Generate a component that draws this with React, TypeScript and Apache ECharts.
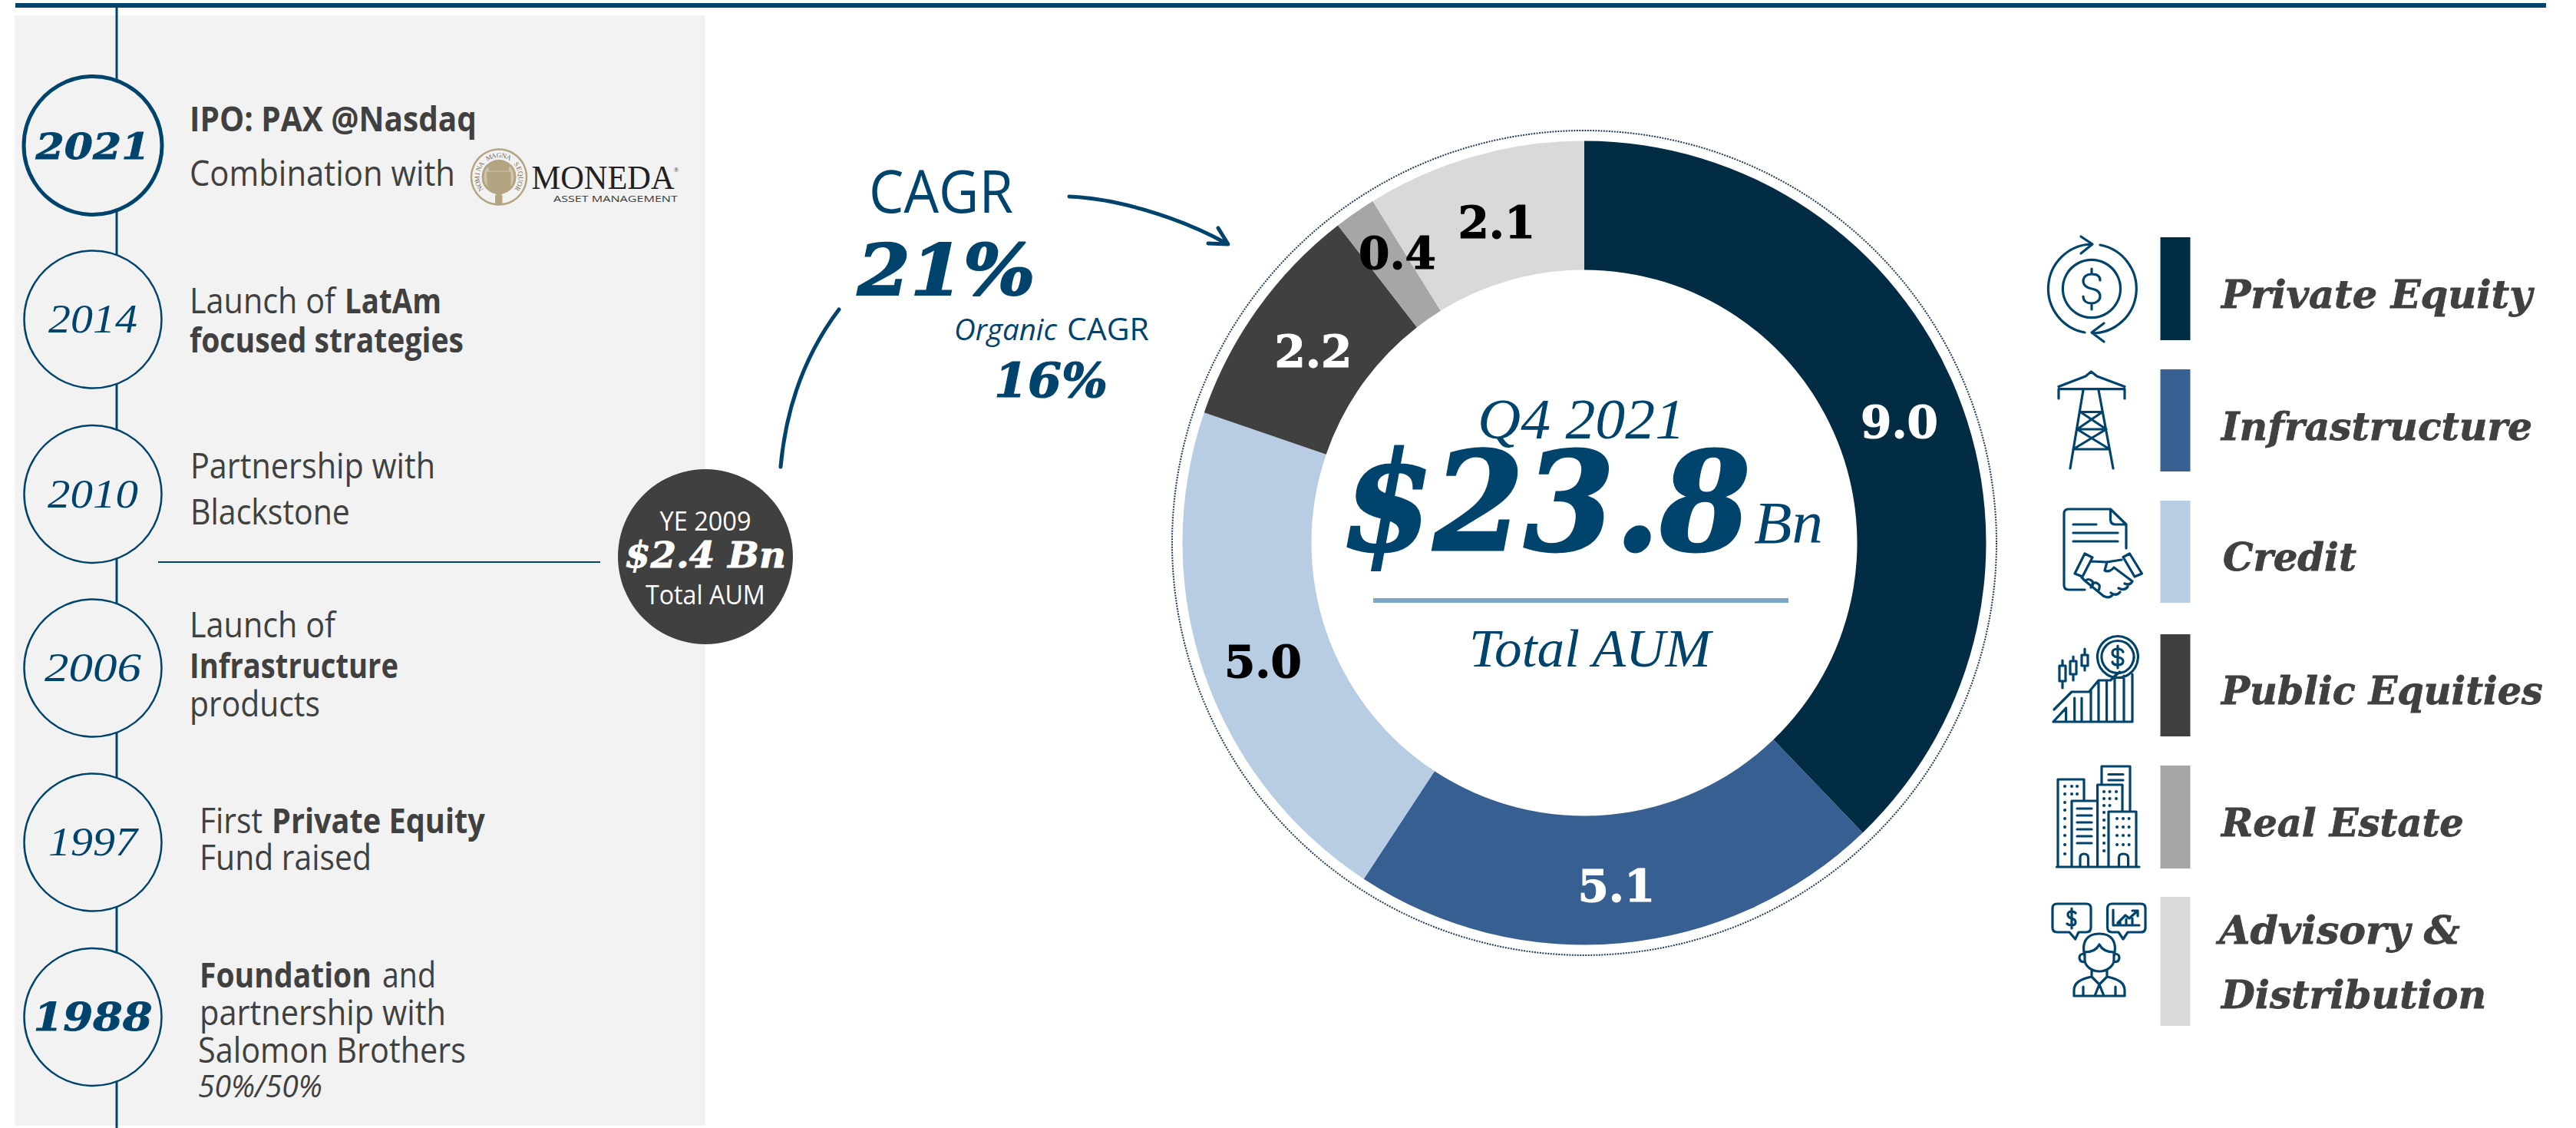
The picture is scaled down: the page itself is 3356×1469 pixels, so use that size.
import React, { useEffect, useRef } from "react";
import * as echarts from "echarts";

const categories = ["Private Equity", "Infrastructure", "Credit", "Public Equities", "Real Estate", "Advisory & Distribution"];
const aumValues = [9.0, 5.1, 5.0, 2.2, 0.4, 2.1];
const sliceColors = ["#022b44", "#385f91", "#b8cce4", "#404040", "#a6a6a6", "#d9d9d9"];
const labelColors = ["#ffffff", "#ffffff", "#000000", "#ffffff", "#000000", "#000000"];
const labelOffsets = [[0, 8], [1, 6], [0, 12], [7, 8], [9, -14], [7, 9]];

const years = ["2021", "2014", "2010", "2006", "1997", "1988"];
const yearCentersY = [189.5, 416, 643.5, 870, 1097, 1324.5];
const yearStrong = [true, false, false, false, false, true];
const yearWidths = [149, 116, 118, 126, 116, 155];

const BLUE = "#00446e";
const INK = "#404040";
const SANS = '"Open Sans"';
const SERIF = '"Liberation Serif"';
const HEAVY = '"DejaVu Serif"';

const regular = (s: number) => `${s}px ${SANS}`;
const bold = (s: number) => `bold ${s}px ${SANS}`;
const ital = (s: number) => `italic ${s}px ${SANS}`;
const serifIt = (s: number) => `italic ${s}px ${SERIF}`;
const serifBI = (s: number) => `italic bold ${s}px ${HEAVY}`;

const timelineRuns: [string, number, number, number, string][] = [
  ["IPO: PAX @Nasdaq", 247, 171, 374, bold(45)],
  ["Combination with", 247, 242, 346, regular(45)],
  ["Launch of", 247, 408, 190, regular(45)],
  ["LatAm", 449, 408, 126, bold(45)],
  ["focused strategies", 247, 459, 357, bold(45)],
  ["Partnership with", 248, 623, 319, regular(45)],
  ["Blackstone", 248, 683, 208, regular(45)],
  ["Launch of", 247, 830, 190, regular(45)],
  ["Infrastructure", 247, 883, 272, bold(45)],
  ["products", 247, 933, 170, regular(45)],
  ["First", 260, 1085, 82, regular(45)],
  ["Private Equity", 354, 1085, 278, bold(45)],
  ["Fund raised", 260, 1133, 224, regular(45)],
  ["Foundation", 260, 1286, 224, bold(45)],
  ["and", 498, 1286, 70, regular(45)],
  ["partnership with", 260, 1335, 321, regular(45)],
  ["Salomon Brothers", 258, 1384, 349, regular(45)],
  ["50%/50%", 258, 1429, 162, ital(40)],
];

const legendLines: [string, number, number, number][] = [
  ["Private Equity", 2894, 401, 405],
  ["Infrastructure", 2894, 573, 405],
  ["Credit", 2896, 743, 174],
  ["Public Equities", 2894, 917, 419],
  ["Real Estate", 2894, 1089, 316],
  ["Advisory &", 2891, 1229, 314],
  ["Distribution", 2894, 1313, 345],
];
const swatches = [[309, 443], [481, 614], [652, 785], [826, 959], [997, 1131], [1168, 1336]];
const sealMotto = "NOMINA MAGNA SEQUOR";

const iconPaths: Record<string, string> = {
  curve: "M1017,608 C1024,530 1050,460 1093,403",
  arrow: "M1393,256 C1450,258 1530,280 1598,317 M1574,317 L1600,318 L1587,297",
  pe:
    "M2724,318 A58,58 0 0 0 2716,433 M2736,319 A58,58 0 0 1 2726,434 M2711,308 L2726,318 L2711,330 M2741,421 L2725,433 L2741,445 " +
    "M2725,338.4 A37.6,37.6 0 1 1 2724.9,338.4 " +
    "M2736,365 C2736,359 2731,357 2725,357 C2718,357 2714,361 2714,366 C2714,372 2720,375 2725,376 C2731,377 2736,380 2736,386 C2736,391 2731,395 2725,395 C2719,395 2714,392 2714,386 M2725,350 V357 M2725,395 V403",
  tower:
    "M2682,519 V506.6 H2768 V519 M2682,503.5 L2717,490 L2724.4,484 L2732,490 L2768,503.5 " +
    "M2714,508 L2697,610 M2734,508 L2753,610 M2710.4,536.5 H2739 M2706,559 H2744 M2701,585 H2748.5 " +
    "M2710.4,536.5 L2744,559 M2739,536.5 L2706,559 M2706,559 L2748.5,585 M2744,559 L2701,585",
  doc:
    "M2770,714 V683 L2749.5,663 H2695 Q2689,663 2689,669 V762 Q2689,768 2695,768 H2716 M2749.5,663 V677 Q2750,683 2756,683 H2770 " +
    "M2701,683 H2731 M2701,694 H2759 M2701,705 H2759 " +
    "M2716,721 L2726,726 L2713,751 L2703,747 Z M2766,725.5 L2774.5,721 L2790.5,747 L2781,751 Z " +
    "M2724,731 L2745,732 L2764,729 M2745,732 L2742,743 Q2748,746 2754,739 L2778,757 M2778,757 Q2775,763 2768,760 M2772,764 Q2768,770 2760,766 M2762,771 Q2757,777 2750,772 M2752,775 Q2748,780 2740,776 " +
    "M2712,752 L2717,757 L2739,775 M2717,757 Q2720,752 2726,757 Q2728,762 2724,765 M2726,760 Q2731,757 2735,762 Q2736,767 2733,770",
  chart:
    "M2687,860 V867 M2687,887 V896 M2683,867 H2691 V887 H2683 Z M2701,855 V861 M2701,878 V886 M2697,861 H2705 V878 H2697 Z M2716,845 V853 M2716,867 V873 M2712,853 H2720 V867 H2712 Z " +
    "M2676,924 L2699,901 H2721.5 L2734,886 H2749.5 L2761.5,875 " +
    "M2675,940 H2778 V878 M2675,940 L2691.6,922 V940 M2702.7,909 V940 M2712,909 V940 M2724,899 V940 M2734,888 V940 M2744.6,888 V940 M2755,880 V940 M2767,880 V940 " +
    "M2759,828.5 A26.5,27 0 1 1 2758.9,828.5 M2759,834.5 A21,21 0 1 1 2758.9,834.5 " +
    "M2766,849 Q2764,845 2759,845 Q2752,845 2752,850 Q2752,855 2759,856 Q2766,857 2766,861 Q2766,866 2759,866 Q2753,866 2752,862 M2759,841 V870",
  city:
    "M2679.5,1129 H2787 M2681,1129 V1015 H2715 V1043 M2699,1129 V1043 H2732.6 V1129 M2732.6,1043 V1022 H2765 V1056 M2738,1022 V998 H2775 V1056 M2747,1129 V1057 H2783 V1129 " +
    "M2706,1053 H2725 M2706,1062 H2725 M2706,1071 H2725 M2706,1080 H2725 M2706,1089 H2725 M2706,1098 H2725 M2747,1008.5 H2766 M2747,1016 H2766 " +
    "M2710,1129 V1117 Q2710,1112 2715,1112 Q2720.5,1112 2720.5,1117 V1129 M2760.5,1129 V1117 Q2760.5,1112 2766,1112 Q2772.6,1112 2772.6,1117 V1129",
  cityDots:
    "M2690,1024 h.1 M2699,1024 h.1 M2706,1024 h.1 M2690,1034 h.1 M2699,1034 h.1 M2706,1034 h.1 M2690,1045 h.1 M2690,1055 h.1 M2690,1066 h.1 M2690,1077 h.1 M2690,1088 h.1 M2690,1100 h.1 M2690,1112 h.1 " +
    "M2741,1031 h.1 M2748.5,1031 h.1 M2757,1031 h.1 M2741,1040 h.1 M2748.5,1040 h.1 M2757,1040 h.1 M2741,1049 h.1 M2748.5,1049 h.1 M2741,1058 h.1 M2741,1068 h.1 M2741,1078 h.1 M2741,1088 h.1 M2741,1098 h.1 M2741,1108 h.1 " +
    "M2758,1066 h.1 M2766,1066 h.1 M2773.6,1066 h.1 M2758,1077 h.1 M2766,1077 h.1 M2773.6,1077 h.1 M2758,1088 h.1 M2766,1088 h.1 M2773.6,1088 h.1 M2758,1100 h.1 M2766,1100 h.1 M2773.6,1100 h.1",
  advisor:
    "M2680,1177 H2718 Q2724,1177 2724,1183 V1208 Q2724,1214 2718,1214 H2708 L2703.7,1223 L2696,1214 H2680 Q2674,1214 2674,1208 V1183 Q2674,1177 2680,1177 Z " +
    "M2751.6,1177 H2789 Q2795,1177 2795,1183 V1208 Q2795,1214 2789,1214 H2772 L2766,1223 L2760,1214 H2751.6 Q2745.6,1214 2745.6,1208 V1183 Q2745.6,1177 2751.6,1177 Z " +
    "M2704,1189 Q2702,1187 2699,1187 Q2694,1187 2694,1191 Q2694,1195 2699,1196 Q2704,1197 2704,1201 Q2704,1205 2699,1205 Q2695,1205 2693,1203 M2699,1183 V1209 " +
    "M2753,1185 V1205 H2787 M2759,1202 L2769,1192 L2774,1196 L2785,1186 M2778,1186 H2785 V1193 M2762,1205 V1200 M2770,1205 V1197 M2778,1205 V1196 " +
    "M2716,1246 C2711,1225 2720,1216 2735,1216 C2750,1216 2759,1225 2754,1246 M2716,1240 L2716,1250 C2716,1258 2725,1265 2735,1265 C2745,1265 2754,1258 2754,1250 V1240 C2745,1240 2738,1236 2735,1230 C2732,1236 2725,1240 2716,1240 Z " +
    "M2716,1242 Q2709,1242 2709,1247 Q2709,1253 2716,1253 M2754,1242 Q2761,1242 2761,1247 Q2761,1253 2754,1253 " +
    "M2725,1263 V1272 L2735,1282 L2745,1272 V1263 M2725,1272 C2710,1275 2702,1280 2702,1290 V1297 H2768 V1290 C2768,1280 2760,1275 2745,1272 " +
    "M2735,1282 L2729,1297 M2735,1282 L2741,1297 M2714,1285 V1297 M2756,1285 V1297",
  crest:
    "M636,214 Q650,204 664,214 L662,222 H638 Z M635,224 H665 V240 Q665,248 650,254 Q635,248 635,240 Z M646,254 H654 V266 H646 Z",
};
Object.entries(iconPaths).forEach(([k, d]) => {
  echarts.graphic.registerShape(k, echarts.graphic.extendPath(d, {}));
});

const measureCtx = document.createElement("canvas").getContext("2d")!;

function txt(str: string, x: number, baseline: number, font: string, fill: string, width?: number, heavy = 0) {
  measureCtx.font = font;
  const m = measureCtx.measureText(str);
  const off = (m.fontBoundingBoxAscent - m.fontBoundingBoxDescent) / 2;
  const style: any = { text: str, font, fill, align: "left", verticalAlign: "middle" };
  if (heavy) {
    style.stroke = fill;
    style.lineWidth = heavy;
  }
  return { type: "text", x, y: baseline - off, scaleX: width ? width / m.width : 1, silent: true, style };
}

function icon(name: string, lineWidth = 3.2, extra: any = {}) {
  return {
    type: name,
    x: 0,
    y: 0,
    silent: true,
    style: { fill: "none", stroke: BLUE, lineWidth, lineCap: "round", lineJoin: "round", ...extra },
  };
}

function buildGraphic() {
  const els: any[] = [];
  els.push({ type: "rect", shape: { x: 20, y: 4, width: 3297, height: 6 }, style: { fill: BLUE }, silent: true });
  els.push({ type: "rect", shape: { x: 19, y: 20, width: 900, height: 1446 }, style: { fill: "#f2f2f2" }, silent: true });
  els.push({ type: "line", shape: { x1: 152, y1: 10, x2: 152, y2: 1469 }, style: { stroke: BLUE, lineWidth: 3 }, silent: true });
  els.push({ type: "line", shape: { x1: 206, y1: 732, x2: 782, y2: 732 }, style: { stroke: BLUE, lineWidth: 2 }, silent: true });

  years.forEach((y, i) => {
    const strong = yearStrong[i];
    els.push({
      type: "circle",
      shape: { cx: 121, cy: yearCentersY[i], r: i === 0 ? 90 : 89.5 },
      style: { fill: "#f2f2f2", stroke: BLUE, lineWidth: i === 0 ? 5 : 2.5 },
      silent: true,
    });
    const w = yearWidths[i];
    const font = strong ? serifBI(i === 5 ? 50 : 46) : serifIt(52);
    els.push(txt(y, 121 - w / 2, yearCentersY[i] + (strong ? 17 : 17), font, BLUE, w, strong ? 0.8 : 0));
  });

  timelineRuns.forEach(([s, x, b, w, f]) => els.push(txt(s, x, b, f, INK, w)));

  // Moneda logo
  const sealColor = "#b3a582";
  els.push({ type: "circle", shape: { cx: 650, cy: 230.5, r: 36 }, style: { fill: "#f2f2f2", stroke: sealColor, lineWidth: 2.5 }, silent: true });
  els.push({ type: "circle", shape: { cx: 650, cy: 230.5, r: 21 }, style: { fill: "#cfc5ab", stroke: sealColor, lineWidth: 3 }, silent: true });
  els.push(icon("crest", 1, { fill: sealColor, stroke: sealColor }));
  const chars = sealMotto.split("");
  chars.forEach((c, i) => {
    if (c === " ") return;
    const theta = ((-122 + (244 * i) / (chars.length - 1)) * Math.PI) / 180;
    els.push({
      type: "text",
      x: 650 + 28.5 * Math.sin(theta),
      y: 230.5 - 28.5 * Math.cos(theta),
      rotation: -theta,
      silent: true,
      style: { text: c, font: `9px ${SERIF}`, fill: "#7d7050", align: "center", verticalAlign: "middle" },
    });
  });
  els.push(txt("MONEDA", 692.6, 246, `44px ${SERIF}`, "#231f20", 186));
  els.push(txt("®", 878, 224, `8px ${SERIF}`, "#231f20"));
  els.push(txt("ASSET MANAGEMENT", 721, 263, `11.5px ${SANS}`, "#3a3a3a", 162));

  // Curves
  els.push(icon("curve", 5));
  els.push(icon("arrow", 5));

  // YE 2009 bubble
  els.push({ type: "circle", shape: { cx: 919, cy: 725, r: 114 }, style: { fill: "#404040" }, silent: true });
  els.push(txt("YE 2009", 859.5, 691, regular(35), "#ffffff", 119));
  els.push(txt("$2.4 Bn", 814, 739, serifBI(46), "#ffffff", 210, 0.8));
  els.push(txt("Total AUM", 841, 787, regular(35), "#ffffff", 156));

  // CAGR
  els.push(txt("CAGR", 1132, 277, regular(76), BLUE, 188));
  els.push(txt("21%", 1117, 384, serifBI(92), BLUE, 232, 2));
  els.push(txt("Organic", 1243, 443, ital(38), BLUE, 134));
  els.push(txt("CAGR", 1390, 443, regular(40), BLUE, 107));
  els.push(txt("16%", 1295, 517, serifBI(62), BLUE, 148, 1.2));

  // Dotted ring
  els.push({ type: "circle", shape: { cx: 2064, cy: 707, r: 537 }, style: { fill: "none", stroke: "#1f3b5c", lineWidth: 2, lineDash: [2, 1.5] }, silent: true });

  // Centre
  els.push(txt("Q4 2021", 1925, 571, serifIt(74), BLUE, 270));
  els.push(txt("$23.8", 1749, 716, serifBI(178), BLUE, 532, 3));
  els.push(txt("Bn", 2285, 707, serifIt(78), BLUE, 90));
  els.push({ type: "rect", shape: { x: 1789, y: 779, width: 541, height: 6 }, style: { fill: "#7aa7c7" }, silent: true });
  els.push(txt("Total AUM", 1914, 868, serifIt(70), BLUE, 316));

  // Legend
  swatches.forEach(([a, b], i) => {
    els.push({ type: "rect", shape: { x: 2814.5, y: a, width: 39, height: b - a }, style: { fill: sliceColors[i] }, silent: true });
  });
  legendLines.forEach(([s, x, b, w]) => els.push(txt(s, x, b, serifBI(50), INK, w, 0.8)));

  // Icons
  ["pe", "tower", "doc", "chart", "city", "advisor"].forEach((n) => els.push(icon(n)));
  els.push(icon("cityDots", 4));
  return els;
}

export default function App() {
  const ref = useRef<HTMLDivElement>(null);
  useEffect(() => {
    document.body.style.margin = "0";
    document.body.style.background = "#ffffff";
    const chart = echarts.init(ref.current!, undefined, { renderer: "svg" });
    chart.setOption({
      animation: false,
      backgroundColor: "#ffffff",
      graphic: { elements: buildGraphic() },
      series: [
        {
          type: "pie",
          center: [2064, 707],
          radius: [355.5, 523.5],
          startAngle: 90,
          clockwise: true,
          silent: true,
          avoidLabelOverlap: false,
          minAngle: 0,
          labelLine: { show: false },
          data: categories.map((name, i) => ({
            name,
            value: aumValues[i],
            itemStyle: { color: sliceColors[i], borderWidth: 0 },
            label: {
              show: true,
              position: "inside",
              formatter: (p: any) => p.value.toFixed(1),
              color: labelColors[i],
              fontFamily: "DejaVu Serif",
              fontWeight: "bold",
              fontSize: 58,
              offset: labelOffsets[i],
              textBorderColor: labelColors[i],
              textBorderWidth: 1.2,
              textShadowBlur: 0,
            },
          })),
        },
      ],
    });
    return () => chart.dispose();
  }, []);
  return <div ref={ref} style={{ position: "fixed", left: 0, top: 0, width: 3356, height: 1469 }} />;
}
